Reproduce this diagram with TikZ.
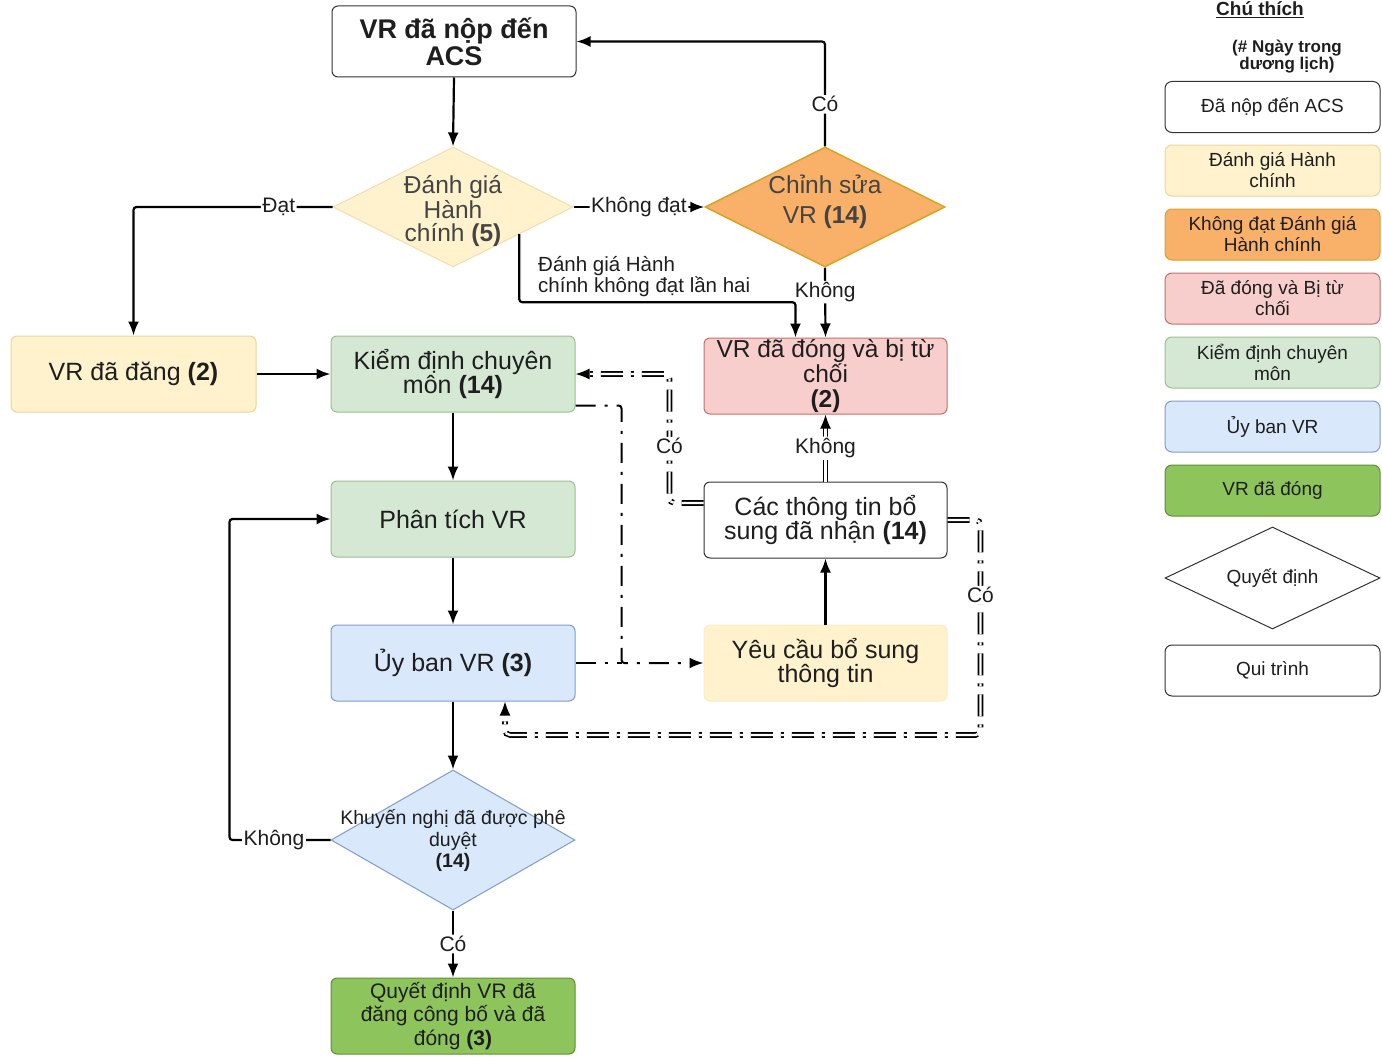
\documentclass[tikz,border=0pt]{standalone}
\usepackage{fontspec}
\setmainfont{Liberation Sans}
\usetikzlibrary{shapes.geometric,arrows.meta,calc}
\definecolor{ylwF}{HTML}{FFF2CC}
\definecolor{ylwD}{HTML}{EDD59C}
\definecolor{orgF}{HTML}{F9B068}
\definecolor{orgD}{HTML}{D9A326}
\definecolor{pnkF}{HTML}{F8CECC}
\definecolor{pnkD}{HTML}{C0706C}
\definecolor{grnF}{HTML}{D5E8D4}
\definecolor{grnD}{HTML}{9DBF8E}
\definecolor{bluF}{HTML}{DAE8FC}
\definecolor{bluD}{HTML}{7F9DC8}
\definecolor{dgrF}{HTML}{8DC45B}
\definecolor{dgrD}{HTML}{5E8F33}
\definecolor{txt}{HTML}{1E1E1E}
\definecolor{dtxt}{HTML}{444444}
\definecolor{bdr}{HTML}{333333}
\begin{document}
\begin{tikzpicture}[x=1pt,y=-1pt,
  box/.style={rectangle, rounded corners=6pt, line width=1pt, minimum width=244pt, minimum height=76pt, align=center, inner sep=0pt, text=txt, font=\fontsize{25}{23.5}\selectfont},
  dia/.style={diamond, minimum width=240pt, minimum height=120pt, inner sep=0pt, line width=1pt},
  dtext/.style={align=center, inner sep=0pt, text=dtxt, font=\fontsize{24.5}{23}\selectfont},
  lgbox/.style={rectangle, rounded corners=7pt, line width=1pt, minimum width=215pt, minimum height=51pt, align=center, inner sep=0pt, text=txt, font=\fontsize{19}{21}\selectfont},
  tip/.style={-{Latex[length=14pt,width=11pt]}},
  arr/.style={line width=2.2pt, rounded corners=3pt, tip},
  sdd/.style={line width=2pt, rounded corners=3pt, dash pattern=on 20pt off 9pt on 3pt off 9pt},
  dbl/.style={double, double distance=2.4pt, line width=1.6pt, rounded corners=5pt, dash pattern=on 22pt off 8pt on 3pt off 8pt},
  lbl/.style={fill=white, inner sep=1.5pt, text=txt, font=\fontsize{21}{21}\selectfont},
  note/.style={align=left, inner sep=0pt, text=txt, font=\fontsize{20.5}{20}\selectfont}
]
\useasboundingbox (0,0) rectangle (1382,1057);
% main nodes
\node[box, draw=bdr, fill=white, minimum height=71pt, font=\fontsize{27}{27}\selectfont\bfseries] (a) at (454,41.5) {VR đã nộp đến\\ACS};
\node[dia, fill=ylwF, draw=ylwD!80] (d1) at (453,207) {};
\node[dtext] (d1t) at (453,211) {Đánh giá\\Hành\\chính \textbf{(5)}};
\node[dia, fill=orgF, draw=orgD, line width=1.5pt] (d2) at (825,207) {};
\node[dtext, font=\fontsize{24.5}{30}\selectfont] (d2t) at (825,202) {Chỉnh sửa\\VR \textbf{(14)}};
\node[box, fill=ylwF, draw=ylwD, minimum width=245pt] (b) at (133.5,374) {VR đã đăng \textbf{(2)}};
\node[box, fill=grnF, draw=grnD] (c) at (453,374) {Kiểm định chuyên\\môn \textbf{(14)}};
\node[box, fill=pnkF, draw=pnkD, minimum width=243pt, font=\fontsize{24.5}{25}\selectfont] (r) at (825.5,376) {VR đã đóng và bị từ\\chối\\\textbf{(2)}};
\node[box, fill=grnF, draw=grnD] (p) at (453,519) {Phân tích VR};
\node[box, draw=bdr, fill=white, minimum width=243pt] (i) at (825.5,520) {Các thông tin bổ\\sung đã nhận \textbf{(14)}};
\node[box, fill=bluF, draw=bluD] (u) at (453,663) {Ủy ban VR \textbf{(3)}};
\node[box, fill=ylwF, draw=ylwF!80!ylwD, minimum width=243pt] (y) at (825.5,663) {Yêu cầu bổ sung\\thông tin};
\node[dia, fill=bluF, draw=bluD, minimum width=244pt, minimum height=140pt] (d3) at (453,840) {};
\node[dtext, text=txt, font=\fontsize{19.5}{21.5}\selectfont] (d3t) at (453,841) {Khuyến nghị đã được phê\\duyệt\\\textbf{(14)}};
\node[box, fill=dgrF, draw=dgrD, font=\fontsize{21}{23.5}\selectfont] (f) at (453,1016) {Quyết định VR đã\\đăng công bố và đã\\đóng \textbf{(3)}};
% solid connectors
\draw[arr] (a.south) -- (d1.north);
\draw[arr] (d1.west) -| node[lbl,pos=0.135]{Đạt} (b.north);
\draw[arr] (d1.east) -- node[lbl]{Không đạt} (d2.west);
\draw[arr] (d2.north) |- node[lbl,pos=0.2]{Có} (a.east);
\draw[arr] (d2.south) -- node[lbl,pos=0.35]{Không} (r.north);
\coordinate (d1a) at ($(d1.east)!0.45!(d1.south)$);
\draw[arr] (d1a) -- ++(0,68) -| ([xshift=-30pt]r.north);
\node[note, anchor=south west] (n1) at (538,297) {Đánh giá Hành\\chính không đạt lần hai};
\draw[arr] (b.east) -- (c.west);
\draw[arr] (c.south) -- (p.north);
\draw[arr] (p.south) -- (u.north);
\draw[arr] (u.south) -- (d3.north);
\draw[arr] (d3.south) -- node[lbl]{Có} (f.north);
\draw[arr] (d3.west) -- node[lbl,pos=0.56]{Không} ++(-101,0) |- (p.west);
\draw[arr] (y.north) -- (i.south);
% dash-dot connectors
\draw[sdd] (u.east) -- ++(46,0);
\draw[sdd, tip] ([yshift=7pt]c.south east) -- ++(46,0) |- (y.west);
\draw[dbl, tip] ([yshift=17pt]i.west) -- ++(-34,0) |- node[lbl,pos=0.22]{Có} (c.east);
\draw[dbl, tip] (i.north) -- node[lbl]{Không} (r.south);
\draw[dbl, tip] (i.east) -- ++(33,0) -- node[lbl,pos=0.35]{Có} ++(0,215) -| ([xshift=52pt]u.south);
% legend
\node[inner sep=0pt, anchor=base, text=txt, font=\fontsize{19}{19}\selectfont\bfseries] (lt) at (1260,16) {\underline{Chú thích}};
\node[inner sep=0pt, align=center, text=txt, font=\fontsize{17}{15}\selectfont\bfseries] (ls) at (1287,57) {(\# Ngày trong\\dương lịch)};
\node[lgbox, draw=bdr, fill=white] (l1) at (1272.5,107) {Đã nộp đến ACS};
\node[lgbox, draw=ylwD, fill=ylwF] (l2) at (1272.5,170.5) {Đánh giá Hành\\chính};
\node[lgbox, draw=orgD, fill=orgF] (l3) at (1272.5,234.5) {Không đạt Đánh giá\\Hành chính};
\node[lgbox, draw=pnkD, fill=pnkF] (l4) at (1272.5,298.5) {Đã đóng và Bị từ\\chối};
\node[lgbox, draw=grnD, fill=grnF] (l5) at (1272.5,362.5) {Kiểm định chuyên\\môn};
\node[lgbox, draw=bluD, fill=bluF] (l6) at (1272.5,426.5) {Ủy ban VR};
\node[lgbox, draw=dgrD, fill=dgrF] (l7) at (1272.5,490.5) {VR đã đóng};
\node[diamond, draw=bdr, fill=white, line width=1pt, minimum width=215pt, minimum height=102pt, inner sep=0pt] (l8) at (1272.5,578) {};
\node[inner sep=0pt, text=txt, font=\fontsize{19}{21}\selectfont] (l8t) at (1272.5,578) {Quyết định};
\node[lgbox, draw=bdr, fill=white] (l9) at (1272.5,670.5) {Qui trình};
\end{tikzpicture}
\end{document}
